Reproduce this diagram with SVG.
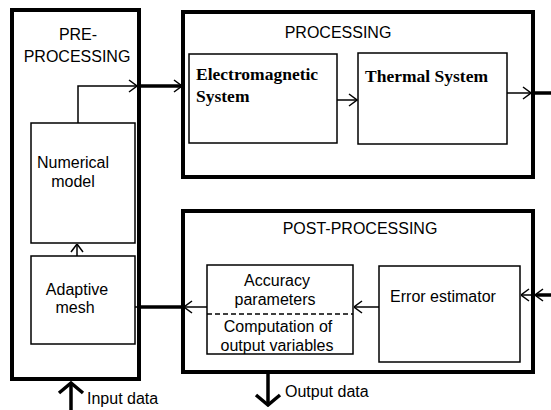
<svg xmlns="http://www.w3.org/2000/svg" width="551" height="410" viewBox="0 0 551 410">
<style>
.outer{fill:none;stroke:#000;stroke-width:4}
.inner{fill:#fff;stroke:#000;stroke-width:1.5}
.t{font-family:"Liberation Sans",Arial,sans-serif;font-size:16px;fill:#000}
.b{font-family:"Liberation Serif","Times New Roman",serif;font-size:17.5px;font-weight:bold;fill:#000}
.thin{fill:none;stroke:#000;stroke-width:1.5}
.thick{fill:none;stroke:#000;stroke-width:3.5}
.ah{marker-end:url(#a)}
.bh{marker-end:url(#big)}
</style>
<defs>
<marker id="a" markerUnits="userSpaceOnUse" viewBox="0 0 10 14" refX="9.5" refY="7" markerWidth="10" markerHeight="14" orient="auto">
<path d="M1.5,1 L9.5,7 L1.5,13" fill="none" stroke="#000" stroke-width="1.5"/>
</marker>
<marker id="big" markerUnits="userSpaceOnUse" viewBox="0 0 14 28" refX="12" refY="14" markerWidth="14" markerHeight="28" orient="auto">
<path d="M2,2 L12,14 L2,26" fill="none" stroke="#000" stroke-width="3.5"/>
</marker>
</defs>

<g id="pre">
<rect class="outer" x="12" y="10" width="127" height="369"/>
<text class="t" x="78" y="40" text-anchor="middle">PRE-</text>
<text class="t" x="77" y="62" text-anchor="middle">PROCESSING</text>
</g>
<g id="numerical">
<rect class="inner" x="31" y="123" width="104" height="120"/>
<text class="t" x="73" y="168" text-anchor="middle">Numerical</text>
<text class="t" x="73" y="187" text-anchor="middle">model</text>
</g>
<g id="adaptive">
<rect class="inner" x="31" y="256" width="104" height="88"/>
<text class="t" x="77" y="295" text-anchor="middle">Adaptive</text>
<text class="t" x="75" y="313" text-anchor="middle">mesh</text>
</g>

<g id="processing">
<rect class="outer" x="183" y="12" width="350" height="165"/>
<text class="t" x="338" y="38" text-anchor="middle">PROCESSING</text>
</g>
<g id="em">
<rect class="inner" x="189" y="54" width="148" height="89"/>
<text class="b" x="196" y="80">Electromagnetic</text>
<text class="b" x="196" y="102">System</text>
</g>
<g id="thermal">
<rect class="inner" x="358" y="53" width="149" height="91"/>
<text class="b" x="365" y="82">Thermal System</text>
</g>

<g id="post">
<rect class="outer" x="183" y="211" width="350" height="161"/>
<text class="t" x="360" y="234" text-anchor="middle">POST-PROCESSING</text>
</g>
<g id="accuracy">
<rect class="inner" x="207" y="265" width="146" height="89"/>
<line x1="207" y1="314" x2="353" y2="314" stroke="#000" stroke-width="1.5" stroke-dasharray="5,3"/>
<text class="t" x="277" y="286" text-anchor="middle">Accuracy</text>
<text class="t" x="275" y="305" text-anchor="middle">parameters</text>
<text class="t" x="278" y="332" text-anchor="middle">Computation of</text>
<text class="t" x="277" y="351" text-anchor="middle">output variables</text>
</g>
<g id="error">
<rect class="inner" x="379" y="266" width="141" height="96"/>
<text class="t" x="443" y="302" text-anchor="middle">Error estimator</text>
</g>

<g id="connectors">
<polyline class="thin ah" points="78,123 78,86 137,86"/>
<line class="thick" x1="140" y1="86" x2="182" y2="86"/>
<line class="thin ah" x1="170" y1="86" x2="182" y2="86"/>
<line class="thin ah" x1="337" y1="100" x2="357" y2="100"/>
<line class="thin ah" x1="507" y1="93" x2="531" y2="93"/>
<line class="thick" x1="533" y1="93" x2="551" y2="93"/>
<line class="thick" x1="551" y1="295" x2="536" y2="295"/>
<line class="thin ah" x1="545" y1="295" x2="535" y2="295"/>
<line class="thin ah" x1="533" y1="295" x2="521" y2="295"/>
<line class="thin ah" x1="379" y1="307" x2="354" y2="307"/>
<line class="thin ah" x1="207" y1="307" x2="184" y2="307"/>
<line class="thick" x1="183" y1="307" x2="140" y2="307"/>
<line class="thin" x1="140" y1="307" x2="135" y2="307"/>
<line class="thin ah" x1="77" y1="256" x2="77" y2="244"/>
<line class="thick bh" x1="71" y1="410" x2="71" y2="383"/>
<line class="thick bh" x1="268" y1="374" x2="268" y2="405"/>
</g>
<text class="t" x="87" y="404">Input data</text>
<text class="t" x="285" y="397">Output data</text>
</svg>
